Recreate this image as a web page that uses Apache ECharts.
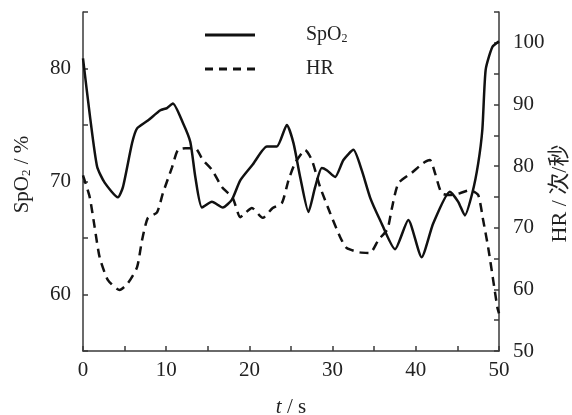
<!DOCTYPE html>
<html>
<head>
<meta charset="utf-8">
<script src="https://cdn.jsdelivr.net/npm/echarts@6/dist/echarts.min.js"></script>
<style>
    html, body {margin:0;padding:0;background:#fff;}
    #chart {width:572px;height:415px;}
</style>
</head>
<body>
<div id="chart"></div>
<script>
// SpO2 (left axis, %)
var spoT = [0, 0.85, 1.7, 2.6, 4.2, 4.8, 5.9, 6.5, 7.8, 9.3, 10.1, 10.8, 12.0, 12.9, 13.5, 14.3, 15.5, 16.8, 17.9, 18.9,
    20.4, 22.1, 23.3, 24.5, 25.3, 26.1, 27.1, 27.9, 28.7, 29.3, 30.3, 31.3, 32.5, 33.5, 34.5, 35.7, 37.5, 39.1, 40.7,
    42.1, 44.1, 45.1, 45.9, 46.8, 47.5, 48.0, 48.4, 49.2, 50];
var spoVal = [80.9, 75.7, 71.3, 69.9, 68.6, 69.5, 73.4, 74.7, 75.4, 76.3, 76.5, 76.9, 75.2, 73.5, 70.4, 67.7, 68.2, 67.7, 68.4, 70.1,
    71.5, 73.1, 73.1, 75.0, 73.4, 70.4, 67.3, 69.5, 71.2, 71.0, 70.4, 71.9, 72.8, 71.0, 68.6, 66.6, 64.0, 66.6, 63.3,
    66.3, 69.1, 68.2, 67.0, 69.0, 71.6, 74.6, 79.9, 81.9, 82.4];

// HR (right axis, 次/秒)
var hrT = [0, 0.8, 1.4, 2.0, 3.0, 4.4, 5.4, 6.5, 7.1, 7.8, 8.9, 9.6, 10.7, 11.4, 12.3, 13.5, 14.4, 15.5, 16.7, 18.0,
    18.9, 19.5, 20.3, 21.6, 22.8, 23.9, 24.7, 25.5, 26.7, 27.5, 28.5, 29.7, 30.9, 31.7, 33.3, 34.5, 35.5, 36.6, 37.1,
    37.9, 39.5, 40.9, 41.7, 42.3, 43.1, 44.1, 45.3, 46.5, 47.5, 48.1, 48.7, 49.3, 49.8, 50];
var hrVal = [78.5, 75.0, 70.1, 65.2, 61.5, 59.9, 61.0, 63.6, 68.0, 71.6, 72.5, 75.6, 79.8, 82.6, 82.9, 82.9, 81.0, 79.4, 76.6, 74.8,
    71.7, 72.4, 73.2, 71.6, 73.2, 74.0, 77.7, 80.5, 82.6, 81.0, 76.6, 72.4, 68.5, 66.7, 66.0, 65.9, 68.0, 69.8, 73.0,
    77.2, 78.9, 80.5, 81.0, 78.9, 75.6, 75.3, 75.6, 76.1, 75.3, 71.2, 66.8, 61.5, 57.1, 56.1];

var xTicks = [0, 10, 20, 30, 40, 50];
var spoTicks = [60, 70, 80];
var hrTicks = [50, 60, 70, 80, 90, 100];

function pairs(t, v) {
    var out = [];
    for (var i = 0; i < t.length; i++) out.push([t[i], v[i]]);
    return out;
}

var FONT = 'Liberation Serif';
var axisCol = '#3a3a3a';
var lineCol = '#111';

// legend icons: plain line / four dashes
var solidIcon = 'path://M0,0H50V3H0Z';
var dashIcon = 'path://M0,0H8V3H0Z M14,0H22V3H14Z M28,0H36V3H28Z M42,0H50V3H42Z';

function baseAxis() {
    return {
        axisLine: {show: true, lineStyle: {color: axisCol, width: 1.5}},
        axisTick: {show: true, inside: true, length: 5, lineStyle: {color: axisCol, width: 1.5}},
        splitLine: {show: false},
        axisLabel: {color: '#222', fontFamily: FONT, fontSize: 21}
    };
}

var xAxis = baseAxis();
Object.assign(xAxis, {type: 'value', min: 0, max: 50, interval: 5,
    name: '{i|t}{a| / s}', nameLocation: 'middle', nameGap: 46,
    nameTextStyle: {rich: {
        i: {fontFamily: FONT, fontSize: 21, fontStyle: 'italic', color: '#222'},
        a: {fontFamily: FONT, fontSize: 21, color: '#222'}}}
});
xAxis.axisLabel = Object.assign({}, xAxis.axisLabel, {margin: 9,
    formatter: function (v) { return xTicks.indexOf(v) >= 0 ? String(v) : ''; }});

var yLeft = baseAxis();
Object.assign(yLeft, {type: 'value', position: 'left', min: 55, max: 85, interval: 5,
    name: '{a|SpO}{s|2}{a| / %}', nameLocation: 'middle', nameGap: 50, nameRotate: 90,
    nameTextStyle: {padding: [0, 0, 0, 14], rich: {
        a: {fontFamily: FONT, fontSize: 21, color: '#222'},
        s: {fontFamily: FONT, fontSize: 13, color: '#222', padding: [8, 0, 0, 0]}}}
});
yLeft.axisLabel = Object.assign({}, yLeft.axisLabel, {margin: 12,
    formatter: function (v) { return spoTicks.indexOf(v) >= 0 ? String(v) : ''; }});

var yRight = baseAxis();
Object.assign(yRight, {type: 'value', position: 'right', min: 50, max: 105, interval: 5,
    name: 'HR / 次/秒', nameLocation: 'middle', nameGap: 50, nameRotate: 90, nameMoveOverlap: false,
    nameTextStyle: {fontFamily: FONT + ', Noto Sans CJK SC', fontSize: 22, color: '#222', padding: [0, 24, 0, 0]}
});
yRight.axisLabel = Object.assign({}, yRight.axisLabel, {margin: 14,
    formatter: function (v) { return hrTicks.indexOf(v) >= 0 ? String(v) : ''; }});

var option = {
    backgroundColor: '#fff',
    animation: false,
    grid: {left: 83, right: 73, top: 12, bottom: 64, containLabel: false, outerBoundsMode: 'none'},
    legend: {
        orient: 'vertical',
        left: 200, top: 20,
        itemWidth: 50, itemHeight: 3, itemGap: 14,
        data: [{name: 'SpO2', icon: solidIcon}, {name: 'HR', icon: dashIcon}],
        itemStyle: {color: lineCol},
        formatter: function (n) {
            return n === 'SpO2' ? '{g|}{a|SpO}{s|2}' : '{g|}{a|HR}';
        },
        textStyle: {rich: {
            g: {width: 46, height: 20},
            a: {fontFamily: FONT, fontSize: 20, color: '#222'},
            s: {fontFamily: FONT, fontSize: 12, color: '#222', padding: [8, 0, 0, 0]}}}
    },
    xAxis: xAxis,
    yAxis: [yLeft, yRight],
    series: [
        {
            name: 'SpO2', type: 'line', yAxisIndex: 0, symbol: 'none', smooth: 0.2,
            lineStyle: {color: lineCol, width: 2.5},
            itemStyle: {color: lineCol},
            data: pairs(spoT, spoVal)
        },
        {
            name: 'HR', type: 'line', yAxisIndex: 1, symbol: 'none', smooth: 0.2,
            lineStyle: {color: lineCol, width: 2.5, type: [9, 6]},
            itemStyle: {color: lineCol},
            data: pairs(hrT, hrVal)
        }
    ]
};

echarts.init(document.getElementById('chart')).setOption(option);
</script>
</body>
</html>
